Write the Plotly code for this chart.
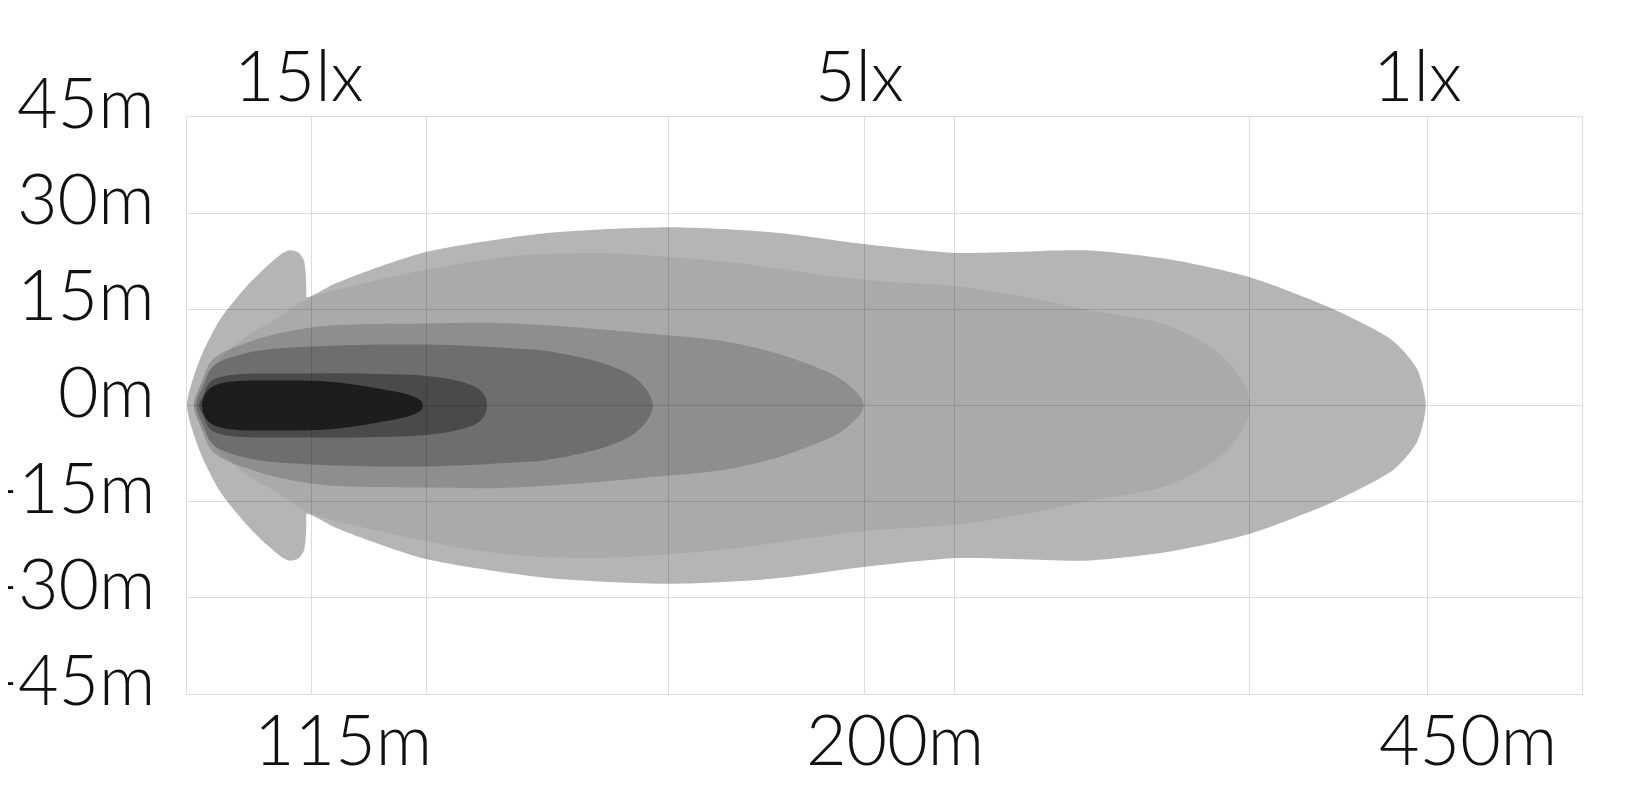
import plotly.graph_objects as go

# distance axis is schematic: 0..100 across the plot width
grid_x = [8.96, 17.2, 34.5, 48.6, 55.05, 76.2, 88.96]
y_ticks = [45, 30, 15, 0, -15, -30, -45]
y_labels = ["45m", "30m", "15m", "0m", "-15m", "-30m", "-45m"]

lux_labels = ["15lx", "5lx", "1lx"]
lux_x = [8.0, 48.2, 88.2]
dist_labels = ["115m", "200m", "450m"]
dist_x = [11.2, 50.75, 91.8]

# upper half of each isolux zone (mirrored below the axis), outermost first
zone_1lx_x = [0, 0.93, 2.37, 4.28, 5.71, 6.88, 7.38, 7.95, 8.35, 8.5, 8.55, 8.6, 10.5, 12.6, 17.2, 25.8,
              34.5, 42.1, 48.5, 55.1, 58.5, 64.4, 70.4, 76.2, 82.2, 86.5, 88.2, 88.8]
zone_1lx_y = [0, 7.2, 13.4, 18.6, 21.7, 23.8, 24.2, 23.9, 22.8, 21.0, 18.5, 16.9, 18.9, 20.7, 24.0, 26.9,
              27.8, 27.0, 25.2, 23.8, 23.9, 24.2, 22.8, 20.0, 15.0, 10.0, 5.6, 0]

zone_2lx_x = [0.43, 0.93, 2.37, 4.28, 6.67, 8.58, 12.6, 17.2, 23.4, 29.6, 33.2, 39.1,
              48.5, 55.1, 59.9, 64.4, 70.4, 74.2, 75.7, 76.2]
zone_2lx_y = [0, 3.0, 7.2, 10.8, 13.9, 16.6, 19.0, 21.2, 23.3, 23.8, 23.4, 22.3,
              19.6, 18.6, 17.0, 15.0, 12.4, 7.7, 3.6, 0]

zone_5lx_x = [0.5, 0.93, 1.86, 4.3, 9.0, 17.2, 23.4, 33.2, 39.1, 43.6, 47.2, 48.5]
zone_5lx_y = [0, 3.0, 7.2, 9.8, 12.2, 12.8, 12.8, 11.2, 9.8, 7.2, 3.6, 0]

zone_10lx_x = [0.65, 1.15, 1.86, 4.3, 9.0, 17.2, 23.4, 25.8, 30.5, 32.5, 33.4]
zone_10lx_y = [0, 3.0, 6.1, 8.2, 9.2, 9.5, 8.9, 8.5, 6.1, 3.6, 0]

zone_15lx_x = [0.86, 1.15, 1.86, 9.0, 13.8, 17.2, 19.5, 20.9, 21.4, 21.5]
zone_15lx_y = [0, 1.5, 4.0, 5.0, 4.9, 4.6, 3.8, 2.6, 1.2, 0]

zone_30lx_x = [1.08, 1.29, 1.86, 3.08, 6.67, 10.25, 13.8, 16.0, 16.8, 16.9]
zone_30lx_y = [0, 1.8, 3.0, 3.7, 3.9, 3.7, 2.6, 1.6, 0.7, 0]

zones = [
    (zone_1lx_x, zone_1lx_y, "rgba(0,0,0,0.29)", 0.7),
    (zone_2lx_x, zone_2lx_y, "rgba(0,0,0,0.06)", 1.0),
    (zone_5lx_x, zone_5lx_y, "rgba(0,0,0,0.165)", 1.0),
    (zone_10lx_x, zone_10lx_y, "rgba(0,0,0,0.225)", 1.0),
    (zone_15lx_x, zone_15lx_y, "rgba(0,0,0,0.32)", 1.0),
    (zone_30lx_x, zone_30lx_y, "rgba(0,0,0,0.6)", 1.0),
]


def outline(xs, ys):
    # closed ring: upper half then mirrored lower half, started mid-top to hide the seam
    ring_x = xs + xs[-2:0:-1]
    ring_y = ys + [-v for v in ys[-2:0:-1]]
    m = len(xs) // 2
    ring_x = ring_x[m:] + ring_x[:m + 1]
    ring_y = ring_y[m:] + ring_y[:m + 1]
    return ring_x, ring_y


FONT = "Lato, 'Open Sans', sans-serif"
label_font = dict(family=FONT, size=70, color="#111", weight=300)

fig = go.Figure()

for xs, ys, color, smooth in zones:
    ox, oy = outline(xs, ys)
    fig.add_trace(go.Scatter(
        x=ox, y=oy,
        mode="lines",
        line=dict(width=0, shape="spline", smoothing=smooth),
        fill="toself",
        fillcolor=color,
        hoverinfo="skip",
        showlegend=False,
    ))

for label, x in zip(lux_labels, lux_x):
    fig.add_annotation(x=x, y=1.075, xref="x", yref="paper", yanchor="middle",
                       text=label, showarrow=False, font=label_font)
for label, x in zip(dist_labels, dist_x):
    fig.add_annotation(x=x, y=-0.077, xref="x", yref="paper", yanchor="middle",
                       text=label, showarrow=False, font=label_font)
for label, y in zip(y_labels, y_ticks):
    fig.add_annotation(x=-0.0215, y=y, xref="paper", yref="y", xanchor="right",
                       yanchor="middle", yshift=16, text=label, showarrow=False,
                       font=label_font)

# page body has an 8px margin, so the figure is sized to fit inside the window
fig.update_layout(
    width=1625, height=784,
    margin=dict(l=179, r=51, t=109, b=98, autoexpand=False),
    plot_bgcolor="white",
    paper_bgcolor="white",
    xaxis=dict(
        range=[0, 100], tickvals=grid_x, showticklabels=False, ticks="",
        showgrid=True, gridcolor="#dddddd", gridwidth=1, zeroline=False,
        showline=True, mirror=True, linecolor="#dddddd", linewidth=1,
        fixedrange=True,
    ),
    yaxis=dict(
        range=[-45, 45], tickvals=y_ticks, showticklabels=False, ticks="",
        showgrid=True, gridcolor="#dddddd", gridwidth=1, zeroline=False,
        showline=True, mirror=True, linecolor="#dddddd", linewidth=1,
        automargin=False, fixedrange=True,
    ),
)

fig.write_html("out.html")
